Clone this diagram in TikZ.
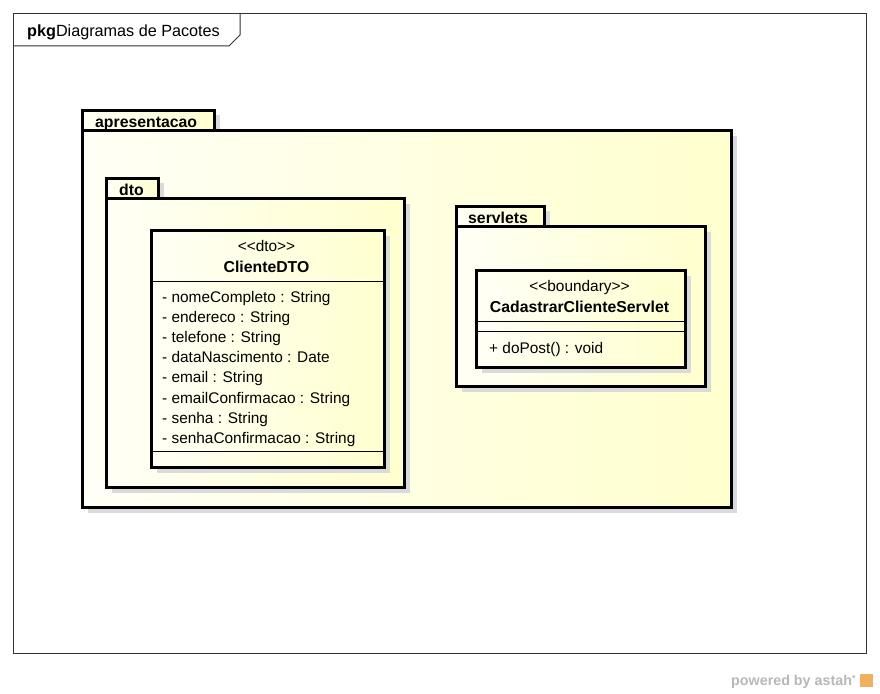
\documentclass[tikz,border=0pt]{standalone}
\usepackage{fontspec}
\setmainfont{Liberation Sans}
\definecolor{ylA}{HTML}{FFFFF6}
\definecolor{ylB}{HTML}{FFFFCE}
\definecolor{shd}{HTML}{DADADA}
\definecolor{wm}{HTML}{B8B8B8}
\definecolor{astahA}{HTML}{F0B060}
\begin{document}
\begin{tikzpicture}[x=1pt,y=-1pt,
  box/.style={draw=black, line width=3pt, inner sep=0pt, anchor=north west,
    left color=ylA, right color=ylB},
  shadowbox/.style={fill=shd, draw=none, inner sep=0pt, anchor=north west},
  tabtext/.style={font=\fontsize{15.8}{18}\selectfont\bfseries, anchor=base west, inner sep=0pt},
  txt/.style={font=\fontsize{15.4}{18}\selectfont, anchor=base west, inner sep=0pt},
  ctxt/.style={font=\fontsize{15.4}{18}\selectfont, anchor=base, inner sep=0pt},
  sep/.style={line width=1pt}]
\useasboundingbox[fill=white] (0,0) rectangle (880,693);

% outer frame
\node[draw=black!80, line width=1pt, inner sep=0pt, anchor=north west,
  minimum width=853, minimum height=640] (frame) at (13,13) {};
\draw[line width=1pt, draw=black!80] (13,46) -- (229,46) -- (240,35) -- (240,13);
\node[txt, font=\fontsize{16.2}{18}\selectfont] (frametitle) at (27,37) {\textbf{pkg}Diagramas de Pacotes};

% ===== package apresentacao =====
\node[shadowbox, minimum width=132, minimum height=20] (apresTabSh) at (88,115) {};
\node[shadowbox, minimum width=649, minimum height=377] (apresSh) at (88,136) {};
\node[box, minimum width=132, minimum height=20] (apresTab) at (81,109) {};
\node[box, minimum width=649, minimum height=377] (apres) at (81,129) {};
\node[tabtext] (apresLbl) at (95,127) {apresentacao};

% ===== package dto =====
\node[shadowbox, minimum width=52, minimum height=20] (dtoTabSh) at (112,183) {};
\node[shadowbox, minimum width=298, minimum height=289] (dtoSh) at (112,204) {};
\node[box, minimum width=52, minimum height=20] (dtoTab) at (105,177) {};
\node[box, minimum width=298, minimum height=289] (dto) at (105,197) {};
\node[tabtext] (dtoLbl) at (119,195) {dto};

% class ClienteDTO
\node[shadowbox, minimum width=233, minimum height=237] (cliSh) at (157,236) {};
\node[box, minimum width=233, minimum height=237] (cli) at (150,229) {};
\draw[sep] (150,281) -- (383,281);
\draw[sep] (150,451) -- (383,451);
\node[ctxt] (cliSt) at (266.5,251) {<\kern0pt<dto>\kern0pt>};
\node[ctxt, font=\fontsize{15.8}{18}\selectfont\bfseries] (cliName) at (266.5,272) {ClienteDTO};
\node[txt] (a1) at (162,302) {- nomeCompleto : String};
\node[txt] (a2) at (162,322) {- endereco : String};
\node[txt] (a3) at (162,342) {- telefone : String};
\node[txt] (a4) at (162,362) {- dataNascimento : Date};
\node[txt] (a5) at (162,382) {- email : String};
\node[txt] (a6) at (162,403) {- emailConfirmacao : String};
\node[txt] (a7) at (162,423) {- senha : String};
\node[txt] (a8) at (162,443) {- senhaConfirmacao : String};

% ===== package servlets =====
\node[shadowbox, minimum width=88, minimum height=20] (srvTabSh) at (462,211) {};
\node[shadowbox, minimum width=249, minimum height=160] (srvSh) at (462,232) {};
\node[box, minimum width=88, minimum height=20] (srvTab) at (455,205) {};
\node[box, minimum width=249, minimum height=160] (srv) at (455,225) {};
\node[tabtext] (srvLbl) at (468,223) {servlets};

% class CadastrarClienteServlet
\node[shadowbox, minimum width=209, minimum height=97] (cadSh) at (482,276) {};
\node[box, minimum width=209, minimum height=97] (cad) at (475,269) {};
\draw[sep] (475,321) -- (684,321);
\draw[sep] (475,331) -- (684,331);
\node[ctxt] (cadSt) at (579.5,291) {<\kern0pt<boundary>\kern0pt>};
\node[ctxt, font=\fontsize{15.8}{18}\selectfont\bfseries] (cadName) at (579.5,312) {CadastrarClienteServlet};
\node[txt] (m1) at (489,353) {+ doPost() : void};

% watermark
\node[anchor=base west, inner sep=0pt, text=wm, font=\fontsize{14.3}{16}\selectfont\bfseries] (wmk) at (731,685) {powered by astah\raisebox{4pt}{\fontsize{9}{10}\selectfont *}};
\node[fill=astahA, inner sep=0pt, minimum width=13, minimum height=13, anchor=north west] (logo) at (860,674) {};
\end{tikzpicture}
\end{document}
